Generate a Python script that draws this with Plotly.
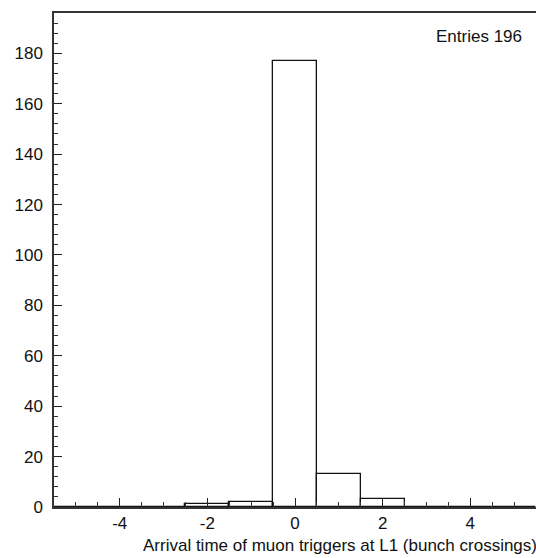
import plotly.graph_objects as go

bin_centers = [-5, -4, -3, -2, -1, 0, 1, 2, 3, 4, 5]
counts = [0, 0, 0, 1, 2, 177, 13, 3, 0, 0, 0]
x_tick_vals = [-4, -2, 0, 2, 4]
x_tick_text = ["-4", "-2", "0", "2", "4"]
y_tick_vals = [0, 20, 40, 60, 80, 100, 120, 140, 160, 180]
x_title = "Arrival time of muon triggers at L1 (bunch crossings)"
stats_text = "Entries 196"

fig = go.Figure()
fig.add_trace(go.Bar(
    x=bin_centers, y=counts, width=1,
    marker=dict(color="white", line=dict(color="#111", width=1.3)),
))

font = dict(family="Liberation Sans, Arial, sans-serif", color="#111", size=17)
fig.update_layout(
    width=536, height=558,
    margin=dict(l=54, r=0, t=13, b=51, autoexpand=False),
    paper_bgcolor="white", plot_bgcolor="white",
    showlegend=False, font=font, bargap=0,
    xaxis=dict(
        range=[-5.5, 5.5], tickvals=x_tick_vals, ticktext=x_tick_text,
        ticks="inside", ticklen=9, tickcolor="#222", showgrid=False, zeroline=False,
        showline=True, linecolor="#333", linewidth=1.5, mirror=True,
        minor=dict(dtick=0.5, tick0=0, ticks="inside", ticklen=5, tickcolor="#333", showgrid=False),
        tickfont=dict(size=17),
    ),
    yaxis=dict(
        range=[0, 196], tickvals=y_tick_vals, ticks="inside", ticklen=8,
        tickcolor="#222", showgrid=False, zeroline=False, ticklabelstandoff=6,
        showline=True, linecolor="#333", linewidth=1.5, mirror=False,
        minor=dict(dtick=4, tick0=0, ticks="inside", ticklen=4, tickcolor="#333", showgrid=False),
        tickfont=dict(size=17),
    ),
    annotations=[
        dict(text=stats_text, x=0.975, y=0.975, xref="paper", yref="paper",
             xanchor="right", yanchor="top", showarrow=False, font=dict(size=17)),
        dict(text=x_title, x=1, y=0, xref="paper", yref="paper", xshift=3, yshift=-27,
             xanchor="right", yanchor="top", showarrow=False, font=dict(size=17)),
    ],
)
fig.write_html("out.html")
